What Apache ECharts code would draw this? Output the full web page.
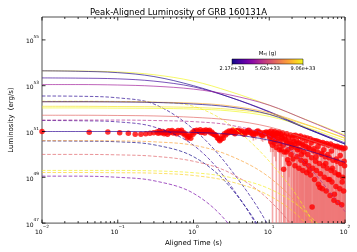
<!DOCTYPE html>
<html><head><meta charset="utf-8">
<script src="https://cdn.jsdelivr.net/npm/echarts@6/dist/echarts.min.js"></script>
<style>html,body{margin:0;padding:0;background:#fff}#c{width:357px;height:252px}</style>
</head><body><div id="c"></div>
<script>
// ---------- observed data (log10 luminosity, log10 lower error bound) ----------
const timeA = [0.01,0.042,0.074,0.106,0.138,0.17,0.202,0.234,0.266,0.298];
const lumA  = [51.00,50.97,50.98,50.95,50.92,50.88,50.88,50.9,50.92,50.94];
const lowA  = [50.97,50.94,50.95,50.92,50.89,50.85,50.85,50.87,50.89,50.91];

const timeB = [0.33,0.355,0.38,0.41,0.44,0.47,0.505,0.54,0.58,0.625,0.67,0.72,0.77,0.83,0.89,0.955,1.02,1.1,1.18,1.27,1.36,1.46,1.57,1.68,1.8,1.93,2.07,2.22,2.38,2.56,2.75,2.95,3.16,3.4,3.65,3.9,4.2,4.5,4.85,5.2,5.55,5.95,6.4,6.85,7.35,7.9,8.5,9.1,9.7];
const lumB  = [50.98,51.02,50.95,50.9,50.97,51.03,51.0,50.93,50.98,51.04,51.0,50.92,50.85,50.72,50.8,50.95,51.03,51.06,51.0,50.96,51.04,51.07,51.02,50.95,50.9,50.85,50.72,50.6,50.8,50.9,50.97,51.02,51.0,50.95,51.03,51.05,50.98,50.92,50.99,51.04,50.97,50.9,50.95,51.0,50.93,50.86,50.94,50.98,50.9];
const lowB  = [50.94,50.98,50.91,50.86,50.93,50.99,50.96,50.89,50.94,51.0,50.96,50.88,50.8,50.66,50.75,50.9,50.98,51.01,50.95,50.91,50.99,51.02,50.97,50.9,50.84,50.79,50.66,50.52,50.73,50.83,50.9,50.95,50.9,50.85,50.92,50.94,50.86,50.8,50.86,50.9,50.82,50.74,50.78,50.82,50.74,50.6,50.72,50.76,50.65];

const timeB2 = [0.342,0.367,0.395,0.425,0.455,0.487,0.522,0.56,0.6,0.647,0.695,0.745,0.8,0.86,0.92,0.987,1.06,1.14,1.225,1.315,1.41,1.515,1.625,1.74,1.865,2.0,2.145,2.3,2.47,2.655,2.85,3.055,3.28,3.525,3.775,4.05,4.35,4.675,5.025,5.375,5.75,6.175,6.625,7.1,7.625,8.2,8.8,9.4,9.85];
const lumB2  = [50.92,50.96,51.0,50.94,50.88,50.96,51.04,50.97,50.9,50.96,51.05,50.95,50.88,50.78,50.7,50.88,50.98,51.02,51.08,50.98,50.93,51.02,51.06,50.98,50.88,50.82,50.68,50.66,50.7,50.85,50.93,50.98,51.05,50.9,50.98,51.0,51.02,50.88,50.94,51.06,50.98,50.85,50.9,51.02,50.96,50.82,50.9,50.95,50.88];
const lowB2  = [50.87,50.91,50.95,50.89,50.83,50.91,50.99,50.92,50.85,50.91,51.0,50.9,50.83,50.72,50.64,50.83,50.93,50.97,51.03,50.93,50.88,50.97,51.01,50.93,50.83,50.77,50.62,50.6,50.64,50.79,50.87,50.92,50.95,50.8,50.86,50.88,50.9,50.76,50.82,50.92,50.84,50.6,50.65,50.76,50.7,50.55,50.6,50.66,50.58];

const timeC1 = [10.0,10.3,10.6,10.9,11.2,11.5,11.8,12.2,12.6,13.0,13.4,13.8,14.2,14.6,15.0,15.5,16.0,16.5,17.0,17.5,18.0,18.5,19.1,19.7,20.3,20.9,21.5,22.2,22.9,23.6,24.3,25.0,25.8,26.6,27.4,28.2,29.0,29.9,30.8,31.7,32.7,33.7,34.7,35.7,36.8,37.9,39.0,40.2,41.4,42.6,43.9,45.2,46.6,48.0,49.4,50.9,52.4,54.0,55.6,57.3,59.0,60.8,62.6,64.5,66.4,68.4,70.4,72.5,74.7,76.9,79.2,81.6,84.0,86.5,89.1,91.8,94.5,97.3,100.0];
const lumC1  = [50.98,50.8,51.02,50.9,50.7,50.95,51.0,50.6,50.92,50.8,50.98,50.45,50.88,50.7,50.93,49.35,50.8,50.6,50.9,49.77,50.75,50.5,50.85,50.3,50.7,50.82,50.45,50.84,50.6,50.2,50.78,50.5,50.8,50.0,50.7,50.4,50.75,49.7,50.6,50.72,50.3,49.3,50.68,50.5,47.7,50.62,50.25,50.6,49.9,50.58,50.35,50.55,48.55,50.5,50.05,50.52,50.2,50.45,49.6,50.48,50.0,50.4,48.9,50.45,50.15,49.4,50.38,48.26,50.35,49.8,50.36,49.12,50.3,49.95,50.3,48.8,50.25,49.7,50.28];
const lowC1  = [50.7,50.4,50.8,50.5,50.1,50.6,50.75,49.7,50.5,50.3,50.7,49.3,50.4,49.9,50.6,47,50.2,47,50.4,47,49.8,47,50.3,47,49.6,47,47,50.1,47,47,49.7,47,47,47,47,47,49.5,47,47,47,47,47,47,47,47,47,47,47,47,47,47,47,47,47,47,47,47,47,47,47,47,47,47,47,47,47,47,47,47,47,47,47,47,47,47,47,47,47,47];

const timeC2 = [10.15,10.45,10.75,11.05,11.35,11.65,12.0,12.4,12.8,13.2,13.6,14.0,14.4,14.8,15.25,15.75,16.25,16.75,17.25,17.75,18.25,18.8,19.4,20.0,20.6,21.2,21.85,22.55,23.25,23.95,24.65,25.4,26.2,27.0,27.8,28.6,29.45,30.35,31.25,32.2,33.2,34.2,35.2,36.25,37.35,38.45,39.6,40.8,42.0,43.25,44.55,45.9,47.3,48.7,50.15,51.65,53.2,54.8,56.45,58.15,59.9,61.7,63.55,65.45,67.4,69.4,71.45,73.6,75.8,78.05,80.4,82.8,85.25,87.8,90.45,93.15,95.9,98.65];
const lumC2  = [50.75,50.55,50.85,50.4,50.8,50.5,50.85,50.3,50.65,50.9,50.2,50.6,50.2,50.75,50.4,50.1,50.65,50.1,50.5,50.2,49.6,50.55,50.0,50.4,49.8,50.55,49.5,50.3,49.9,50.5,49.4,50.2,49.75,50.45,49.3,50.1,49.6,50.35,49.2,50.0,49.5,50.25,49.1,49.85,49.4,50.15,48.9,49.7,49.3,50.1,48.7,49.6,49.15,50.0,48.5,49.5,49.0,49.9,48.4,49.4,48.9,49.85,48.2,49.3,48.8,49.75,48.0,49.2,48.6,49.7,47.9,49.1,48.5,49.6,47.8,49.0,48.4,49.5];
const lowC2  = [50.4,50.1,50.5,47,50.4,49.9,50.5,47,50.2,50.6,47,50.0,47,50.3,49.9,47,50.2,49.6,50.0,47,49.0,50.0,47,49.8,47,47,47,47,47,47,47,47,47,47,47,47,47,47,47,47,47,47,47,47,47,47,47,47,47,47,47,47,47,47,47,47,47,47,47,47,47,47,47,47,47,47,47,47,47,47,47,47,47,47,47,47,47,47];

// ---------- model curves (log10 luminosity at curveTime) ----------
const curveTime = [0.01,0.03,0.1,0.3,1,3,10,30,100];
const solid1 = [53.65,53.64,53.6,53.48,53.2,52.75,52.15,51.53,50.85];
const solid2 = [53.65,53.63,53.57,53.4,53.0,52.5,51.85,51.15,50.45];
const solid3 = [53.34,53.33,53.3,53.2,52.95,52.5,51.87,51.18,50.5];
const solid4 = [53.05,53.05,53.03,52.98,52.85,52.6,52.15,51.52,50.8];
const solid5 = [52.3,52.3,52.3,52.28,52.24,52.12,51.82,51.32,50.7];
const solid6 = [52.1,52.1,52.09,52.08,52.05,51.97,51.75,51.3,50.72];
const solid7 = [52.03,52.03,52.02,52.01,51.98,51.9,51.66,51.2,50.6];
const solid8 = [51.71,51.71,51.7,51.68,51.62,51.5,51.2,50.7,50.1];
const solid9 = [51.0,51.0,51.0,50.99,50.96,50.88,50.62,50.2,49.65];
const solid10 = [52.3,52.3,52.29,52.27,52.2,52.07,51.75,51.15,50.45];
const dashed1 = [52.55,52.54,52.47,52.2,51.1,49.4,46.8,43,38];
const dashed2 = [52.32,52.32,52.31,52.28,52.1,51.3,49.7,47.6,44];
const dashed3 = [51.48,51.47,51.42,51.2,50.4,48.7,45.8,41,35];
const dashed4 = [50.59,50.58,50.55,50.42,49.9,48.6,46.0,42,36];
const dashed5 = [51.5,51.5,51.5,51.48,51.43,51.28,50.8,49.6,47.5];
const dashed6 = [50.6,50.6,50.59,50.55,50.4,49.95,49.0,47.4,44.5];
const dashed7 = [50.0,50.0,49.98,49.92,49.7,49.2,48.0,46.0,42];
const dashed8 = [49.3,49.3,49.3,49.28,49.2,49.0,48.5,47.5,45.5];
const dashed9 = [49.21,49.21,49.2,49.18,49.08,48.82,48.2,47.0,44.5];
const dashed10 = [49.05,49.05,49.0,48.85,48.3,46.9,44,40,35];
// ejecta mass of each curve (1e33 g)
const solidMass = [9.0,2.4,2.8,4.6,7.8,8.7,9.06,6.3,2.6,2.3];
const dashedMass = [2.5,8.8,2.7,2.2,5.0,7.6,6.2,8.9,8.4,3.8];
const massMin = 2.17, massMax = 9.06;
const massTickLabels = ['2.17e+33','5.62e+33','9.06e+33'];

// axis ticks
const xMajor = [0.01,0.1,1,10,100];
const xMinorSubs = [2,3,4,5,6,7,8,9];
const yMajor = [1e47,1e49,1e51,1e53,1e55];

const xMinor = [];
[0.01,0.1,1,10].forEach(d=>xMinorSubs.forEach(k=>xMinor.push(d*k)));

const plasmaStops = ['#0d0887','#41049d','#6a00a8','#8f0da4','#b12a90','#cc4778','#e16462','#f2844b','#fca636','#fcce25','#f0f921'];
function hx(h){return [parseInt(h.slice(1,3),16),parseInt(h.slice(3,5),16),parseInt(h.slice(5,7),16)];}
function plasma(f){f=Math.max(0,Math.min(1,f));const s=f*10;const i=Math.min(9,Math.floor(s));const u=s-i;const a=hx(plasmaStops[i]),b=hx(plasmaStops[i+1]);
 return 'rgb('+a.map((v,j)=>Math.round(v+(b[j]-v)*u)).join(',')+')';}

const FONT='DejaVu Sans';
function powLabel(v){const e=Math.round(Math.log10(v));return '{b|10}{s|'+(e<0?'\u2212'+(-e):e)+'}';}
const richLab={b:{fontSize:6,lineHeight:10,verticalAlign:'bottom',fontFamily:FONT,color:'#000'},s:{fontSize:4.3,lineHeight:10,verticalAlign:'top',fontFamily:FONT,color:'#000'}};

// assemble observations
const obs=[];
[[timeA,lumA,lowA],[timeB,lumB,lowB],[timeB2,lumB2,lowB2],[timeC1,lumC1,lowC1],[timeC2,lumC2,lowC2]].forEach(([t,l,lo])=>{
 t.forEach((tt,i)=>{if(l[i]!==undefined) obs.push([tt,Math.pow(10,l[i]),Math.pow(10,lo[i]!==undefined?lo[i]:l[i])]);});
});

const series=[];
series.push({type:'custom',coordinateSystem:'cartesian2d',clip:true,silent:true,
 data:obs,encode:{x:0,y:[1,2]},
 renderItem:(p,api)=>{const a=api.coord([api.value(0),api.value(1)]);const b=api.coord([api.value(0),api.value(2)]);
  return {type:'line',shape:{x1:a[0],y1:a[1],x2:b[0],y2:b[1]},style:{stroke:'rgba(238,112,112,0.6)',lineWidth:1.6}};}});
series.push({type:'scatter',symbol:'circle',symbolSize:5.5,silent:true,
 itemStyle:{color:'#ff0000'},data:obs.map(o=>[o[0],o[1]])});
const solids=[solid1,solid2,solid3,solid4,solid5,solid6,solid7,solid8,solid9,solid10];
const dashes=[dashed1,dashed2,dashed3,dashed4,dashed5,dashed6,dashed7,dashed8,dashed9,dashed10];
function addCurve(arr,mass,dashed){
 series.push({type:'line',showSymbol:false,smooth:0.35,silent:true,clip:true,
  lineStyle:{width:1,color:plasma((mass-massMin)/(massMax-massMin)),opacity:0.68,type:dashed?[3.5,1.8]:'solid'},
  data:curveTime.map((t,i)=>[t,Math.pow(10,arr[i])])});
}
dashes.forEach((a,i)=>addCurve(a,dashedMass[i],true));
solids.forEach((a,i)=>addCurve(a,solidMass[i],false));
series.push({type:'custom',coordinateSystem:'cartesian2d',silent:true,clip:false,data:[[1,1e50]],encode:{x:0,y:1},z:10,
 renderItem:(p,api)=>{const cs=p.coordSys;const L=cs.x,R=cs.x+cs.width,T=cs.y,B=cs.y+cs.height;const ch=[];
  const add=(x1,y1,x2,y2)=>ch.push({type:'line',shape:{x1,y1,x2,y2},style:{stroke:'#000',lineWidth:0.8}});
  xMajor.forEach(v=>{const x=api.coord([v,1e50])[0];add(x,B,x,B-3.5);add(x,T,x,T+3.5);});
  xMinor.forEach(v=>{const x=api.coord([v,1e50])[0];add(x,B,x,B-2);add(x,T,x,T+2);});
  yMajor.forEach(v=>{const y=api.coord([1,v])[1];add(L,y,L+3.5,y);add(R,y,R-3.5,y);});
  return {type:'group',children:ch};}});

const stops=plasmaStops.map((c,i)=>({offset:i/10,color:c}));
const cbX=232,cbY=59,cbW=71,cbH=5;
const graphic=[
 {type:'rect',shape:{x:cbX,y:cbY,width:cbW,height:cbH},style:{fill:{type:'linear',x:0,y:0,x2:1,y2:0,colorStops:stops},stroke:'#000',lineWidth:0.5},z:20},
 {type:'text',x:cbX+cbW/2,y:cbY-2.5,z:20,style:{text:'{a|M}{e|ej}{a| (g)}',align:'center',verticalAlign:'bottom',
   rich:{a:{fontSize:5.5,fontFamily:FONT,fill:'#000',lineHeight:8,verticalAlign:'bottom'},e:{fontSize:3.8,fontFamily:FONT,fill:'#000',lineHeight:8,verticalAlign:'bottom'}}}}
];
massTickLabels.forEach((t,i)=>{const x=cbX+cbW*i/2;
 graphic.push({type:'line',shape:{x1:x,y1:cbY+cbH,x2:x,y2:cbY+cbH+1.5},style:{stroke:'#000',lineWidth:0.6},z:20});
 graphic.push({type:'text',x:x,y:cbY+cbH+2,z:20,style:{text:t,fontSize:5,fontFamily:FONT,fill:'#000',align:'center',verticalAlign:'top'}});
});

const chart=echarts.init(document.getElementById('c'),null,{renderer:'canvas'});
chart.setOption({
 animation:false,backgroundColor:'#fff',
 title:{text:'Peak-Aligned Luminosity of GRB 160131A',left:'center',top:3,textStyle:{fontSize:8.5,fontWeight:'normal',fontFamily:FONT,color:'#000'}},
 grid:{left:32,right:12,top:17,bottom:26,show:true,borderColor:'#222',borderWidth:0.8,backgroundColor:'#fff'},
 xAxis:{type:'log',logBase:10,min:0.01,max:100,name:'Aligned Time (s)',nameLocation:'middle',nameGap:14,
  nameTextStyle:{fontSize:7,fontFamily:FONT,color:'#000'},
  axisLine:{show:false},axisTick:{show:false},splitLine:{show:false},
  axisLabel:{margin:2,formatter:v=>powLabel(v),rich:richLab}},
 yAxis:{type:'log',logBase:10,min:1e47,max:1e56,name:'Luminosity  (erg/s)',nameLocation:'middle',nameGap:20,
  nameTextStyle:{fontSize:7,fontFamily:FONT,color:'#000'},
  axisLine:{show:false},axisTick:{show:false},splitLine:{show:false},
  axisLabel:{margin:3,formatter:v=>{const e=Math.round(Math.log10(v));return (e%2!==0)?powLabel(v):'';},rich:richLab}},
 graphic:graphic,
 series:series
});
</script></body></html>
